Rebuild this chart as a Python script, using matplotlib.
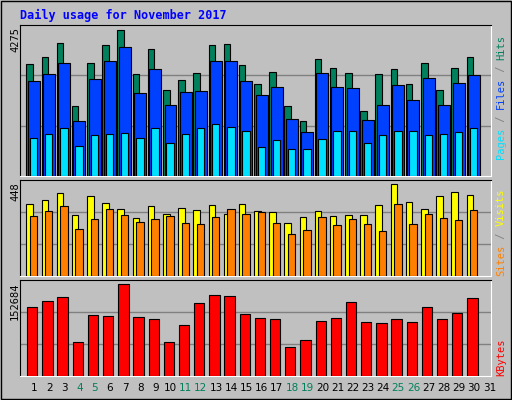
import matplotlib
matplotlib.use("Agg")
import matplotlib.pyplot as plt
import numpy as np

days = list(range(1, 32))
weekend = [4, 5, 11, 12, 18, 19, 25, 26]

# values (30 days, day 31 empty)
hits = [3265, 3459, 3896, 2031, 3284, 3838, 4275, 2963, 3721, 2497,
        2788, 2992, 3838, 3867, 3226, 2672, 3022, 2031, 1594, 3410,
        3148, 2992, 1885, 2963, 3109, 2672, 3284, 2497, 3148, 3459]
files = [2759, 2963, 3284, 1594, 2818, 3342, 3779, 2409, 3109, 2060,
         2439, 2468, 3371, 3371, 2759, 2371, 2604, 1672, 1273, 2992,
         2604, 2575, 1623, 2060, 2643, 2205, 2846, 2060, 2701, 2934]
pages = [1098, 1214, 1389, 865, 1185, 1214, 1243, 1098, 1389, 953,
         1214, 1389, 1506, 1418, 1302, 836, 1040, 778, 778, 1069,
         1302, 1302, 953, 1185, 1302, 1302, 1185, 1214, 1273, 1389]
visits = [350, 370, 404, 297, 389, 355, 326, 282, 339, 300,
          329, 319, 344, 300, 350, 316, 311, 257, 287, 316,
          291, 296, 296, 344, 448, 360, 326, 389, 409, 394]
sites = [291, 316, 339, 228, 277, 326, 297, 263, 277, 291,
         257, 252, 286, 326, 302, 311, 257, 204, 223, 286,
         248, 277, 252, 218, 350, 252, 302, 282, 272, 321]
kbytes = [114872, 124903, 131591, 56347, 101497, 99825, 152684, 98154, 94810, 56347,
          84779, 121559, 134935, 133263, 103169, 96482, 94810, 47988, 59691, 91466,
          96482, 123231, 89794, 88122, 94810, 89794, 114872, 94810, 104841, 129919]

W, H = 512, 400
BG = "#c0c0c0"
MONO = "DejaVu Sans Mono"
CH = 6.2  # px per character, rotated mono text

fig = plt.figure(figsize=(W / 100, H / 100), dpi=100, facecolor=BG)
fig.text(20 / W, 1 - 15 / H, "Daily usage for November 2017", color="#0000ff",
         fontsize=8.5, fontweight="bold", family=MONO, va="center")


def panel(top, bottom):
    ax = fig.add_axes([20 / W, 1 - bottom / H, 471 / W, (bottom - top) / H])
    ax.set_facecolor(BG)
    ax.set_xlim(0.63, 31.66)
    ax.set_xticks([])
    ax.set_yticks([])
    for s in ax.spines.values():
        s.set_color("black")
        s.set_linewidth(0.8)
    ax.spines["bottom"].set_color("white")
    ax.spines["right"].set_color("white")
    return ax


def bars(ax, vals, lo, hi, color):
    x = np.array(days[:len(vals)])
    ax.bar(x + lo, vals, width=hi - lo, align="edge", color=color,
           edgecolor="black", linewidth=0.8, zorder=3)


def grid(ax, vmax, frac):
    ymax = vmax / frac
    ax.set_ylim(0, ymax)
    for f in (1 / 3, 2 / 3):
        ax.axhline(ymax * f, color="#808080", lw=1, zorder=1)


def side_label(parts, y_bottom):
    y = y_bottom
    for txt, c in parts:
        fig.text(501 / W, 1 - y / H, txt, rotation=90, color=c, fontsize=7.5,
                 family=MONO, ha="center", va="bottom")
        y -= len(txt) * CH


# top panel
ax1 = panel(25, 176)
grid(ax1, 4275, 0.97)
bars(ax1, hits, 0.05, 0.48, "#00805c")
bars(ax1, files, 0.15, 0.94, "#0040ff")
bars(ax1, pages, 0.28, 0.77, "#00e0ff")
fig.text(20 / W, 1 - 27 / H, "4275", rotation=90, fontsize=7.5, family=MONO,
         ha="right", va="top")
side_label([("Pages", "#00e0ff"), (" / ", "#808080"), ("Files", "#0040ff"),
            (" / ", "#808080"), ("Hits", "#00805c")], 159)

# middle panel
ax2 = panel(180, 276)
grid(ax2, 448, 0.96)
bars(ax2, visits, 0.05, 0.48, "#ffff00")
bars(ax2, sites, 0.28, 0.77, "#ff8000")
fig.text(20 / W, 1 - 182 / H, "448", rotation=90, fontsize=7.5, family=MONO,
         ha="right", va="top")
side_label([("Sites", "#ff8000"), (" / ", "#808080"), ("Visits", "#ffff00")], 276)

# bottom panel
ax3 = panel(280, 376)
grid(ax3, 152684, 0.96)
bars(ax3, kbytes, 0.1, 0.78, "#ff0000")
fig.text(20 / W, 1 - 282 / H, "152684", rotation=90, fontsize=7.5, family=MONO,
         ha="right", va="top")
side_label([("KBytes", "#ff0000")], 376)

# day labels
for d in days:
    xf = (20 + (d + 0.55 - 0.63) * 471 / 31.03) / W
    fig.text(xf, 1 - 388 / H, str(d), fontsize=7.5, ha="center", va="center",
             color="#00805c" if d in weekend else "black")

# outer frame
fig.add_artist(plt.Rectangle((1 / W, 1 / H), 1 - 2 / W, 1 - 2 / H, transform=fig.transFigure,
                             fill=False, edgecolor="black", lw=1))

fig.savefig("out.png", dpi=100, facecolor=BG)
